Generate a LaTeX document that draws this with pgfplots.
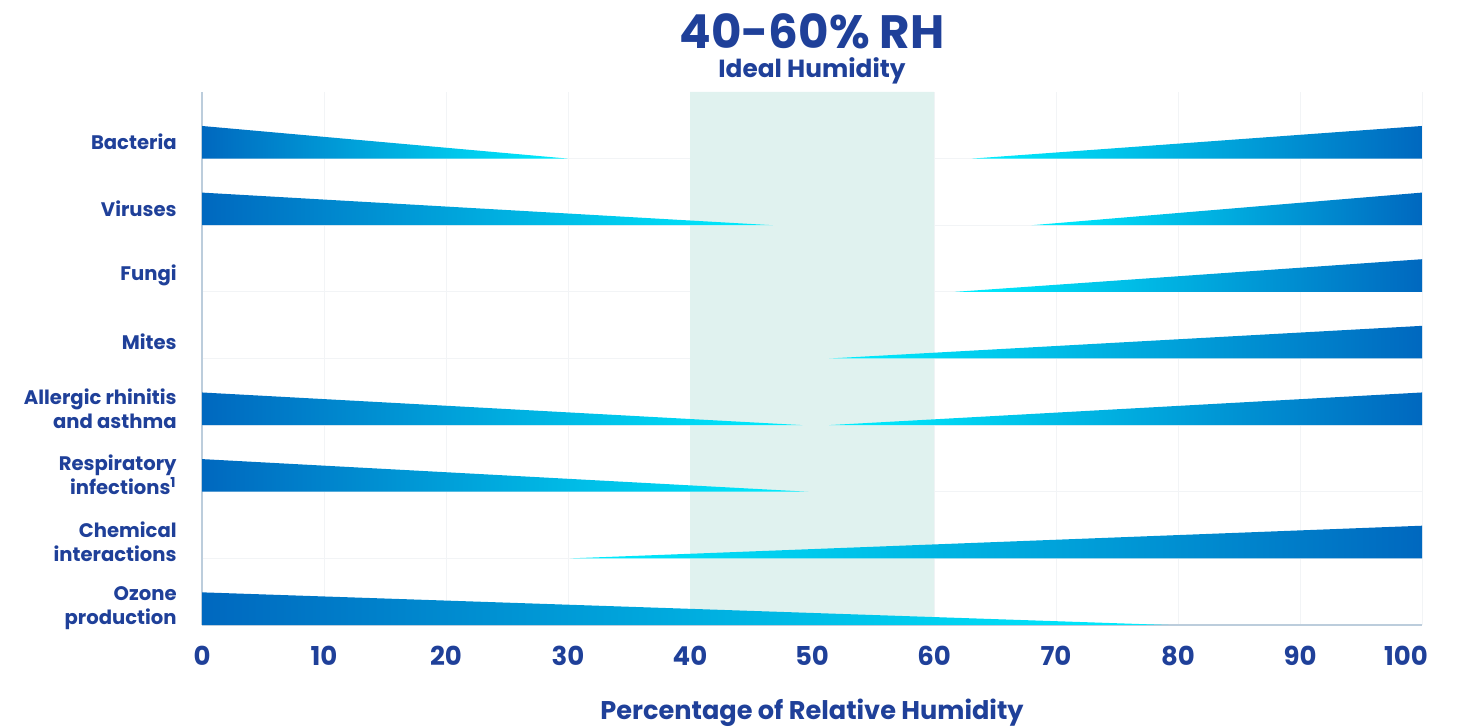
\documentclass[border=0pt]{standalone}
\usepackage{pgfplots}
\pgfplotsset{compat=1.18}
\usepackage{fontspec}
\setmainfont{Poppins}
\definecolor{txt}{HTML}{1F4099}
\definecolor{dk}{HTML}{0068BF}
\definecolor{cy}{HTML}{00F0FF}
\definecolor{band}{HTML}{E0F2EF}
\definecolor{axl}{HTML}{BCCDDC}
\definecolor{gridc}{HTML}{F2F4F6}
\begin{document}
\begin{tikzpicture}
\begin{axis}[
  scale only axis, width=610pt, height=266.5pt,
  xmin=0, xmax=100, ymin=0, ymax=8,
  axis x line=bottom, axis y line=left,
  axis line style={-, draw=axl, line width=0.7pt},
  xtick={0,10,...,100},
  xticklabels={0,10,20,30,40,50,60,70,80,90,{\hspace*{-16pt}100}},
  ytick={0.25,1.25,2.25,3.25,4.25,5.25,6.25,7.25},
  yticklabels={{Ozone\\production},{Chemical\\interactions},{Respiratory\\infections\textsuperscript{1}},{Allergic rhinitis\\and asthma},{Mites},{Fungi},{Viruses},{Bacteria}},
  minor ytick={1,2,3,4,5,6,7},
  major tick length=0pt, minor tick length=0pt,
  xmajorgrids, yminorgrids,
  major grid style={gridc, line width=0.5pt},
  minor grid style={gridc, line width=0.5pt},
  /pgf/number format/assume math mode=true,
  xticklabel style={font=\fontsize{13}{15}\selectfont\bfseries, text=txt, anchor=north, inner sep=0pt, yshift=-10.5pt},
  yticklabel style={font=\fontsize{9.8}{12}\selectfont\bfseries, text=txt, anchor=east, align=right, inner sep=0pt, xshift=-12.5pt},
  xlabel={Percentage of Relative Humidity},
  xlabel style={font=\fontsize{12.8}{15}\selectfont\bfseries, text=txt, at={(axis description cs:0.5,0)}, anchor=base, yshift=-47.5pt},
  clip=false,
]
% ideal band
\addplot[draw=none, fill=band] coordinates {(40,0) (40,8) (60,8) (60,0) (40,0)};
% Bacteria (row 7)
\addplot[draw=none, left color=dk, right color=cy] coordinates {(0,7) (0,7.49) (30,7) (0,7)};
\addplot[draw=none, left color=cy, right color=dk] coordinates {(63.1,7) (100,7.49) (100,7) (63.1,7)};
% Viruses (row 6)
\addplot[draw=none, left color=dk, right color=cy] coordinates {(0,6) (0,6.49) (46.8,6) (0,6)};
\addplot[draw=none, left color=cy, right color=dk] coordinates {(68,6) (100,6.49) (100,6) (68,6)};
% Fungi (row 5)
\addplot[draw=none, left color=cy, right color=dk] coordinates {(61.7,5) (100,5.49) (100,5) (61.7,5)};
% Mites (row 4)
\addplot[draw=none, left color=cy, right color=dk] coordinates {(51.4,4) (100,4.49) (100,4) (51.4,4)};
% Allergic rhinitis and asthma (row 3)
\addplot[draw=none, left color=dk, right color=cy] coordinates {(0,3) (0,3.49) (49.2,3) (0,3)};
\addplot[draw=none, left color=cy, right color=dk] coordinates {(51.4,3) (100,3.49) (100,3) (51.4,3)};
% Respiratory infections (row 2)
\addplot[draw=none, left color=dk, right color=cy] coordinates {(0,2) (0,2.49) (49.7,2) (0,2)};
% Chemical interactions (row 1)
\addplot[draw=none, left color=cy, right color=dk] coordinates {(30.2,1) (100,1.49) (100,1) (30.2,1)};
% Ozone production (row 0)
\addplot[draw=none, left color=dk, right color=cy] coordinates {(0,0) (0,0.49) (79.2,0) (0,0)};
\node[anchor=base, text=txt, font=\fontsize{23.4}{25}\selectfont\bfseries, inner sep=0pt] at ([yshift=21.8pt]rel axis cs:0.5,1) {40-60\% RH};
\node[anchor=base, text=txt, font=\fontsize{12.4}{14}\selectfont\bfseries, inner sep=0pt] at ([yshift=7.2pt]rel axis cs:0.5,1) {Ideal Humidity};
\end{axis}
\pgfresetboundingbox
\path[use as bounding box] ([xshift=-101pt, yshift=-51.5pt]current axis.south west) rectangle ([xshift=21pt, yshift=46pt]current axis.north east);
\end{tikzpicture}
\end{document}
